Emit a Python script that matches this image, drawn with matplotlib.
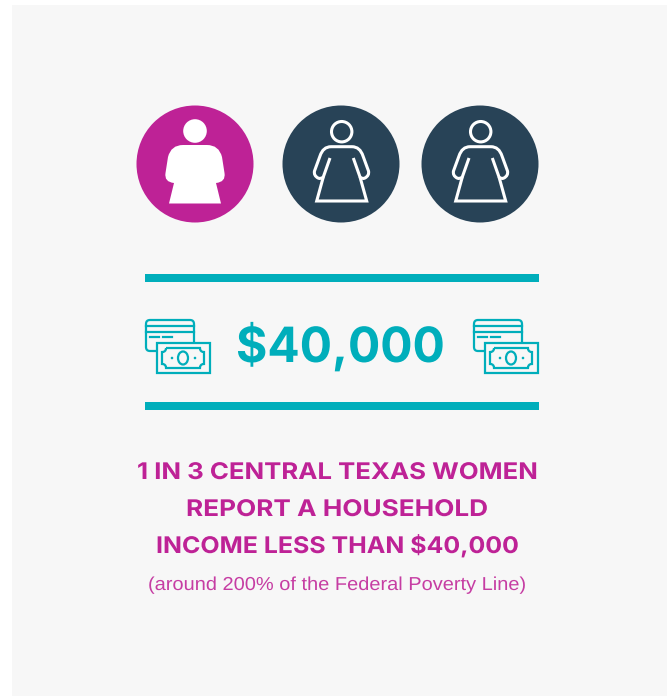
# -*- coding: utf-8 -*-
import matplotlib
matplotlib.use('Agg')
import matplotlib.pyplot as plt
from matplotlib.patches import Circle, Rectangle, FancyBboxPatch, Ellipse, PathPatch
from matplotlib.path import Path
from matplotlib.patheffects import AbstractPathEffect
from matplotlib.transforms import Affine2D

W = 667
H = 696

# one filled icon out of three
women_filled = [True, False, False]
women_x = [195, 341, 480]
amount_label = '$40,000'
headline_lines = ['1 IN 3 CENTRAL TEXAS WOMEN',
                  'REPORT A HOUSEHOLD',
                  'INCOME LESS THAN $40,000']
note_label = '(around 200% of the Federal Poverty Line)'

magenta = '#BE2296'
navy = '#284357'
teal = '#00AEBB'
panel = '#F7F7F7'

fig = plt.figure(figsize=(W / 100, H / 100), dpi=100, facecolor='white')
ax = fig.add_axes([0, 0, 1, 1])
ax.set_xlim(0, W)
ax.set_ylim(H, 0)
ax.axis('off')

ax.add_patch(Rectangle((12, 5), W - 12, H - 5, fc=panel, ec='none'))

M, L, Q, Z = Path.MOVETO, Path.LINETO, Path.CURVE3, Path.CLOSEPOLY


class StretchX(AbstractPathEffect):
    # the reference type is wider than anything installed
    def __init__(self, sx, cx):
        super().__init__()
        self.sx = sx
        self.cx = cx

    def draw_path(self, renderer, gc, tpath, affine, rgbFace=None):
        stretch = Affine2D().translate(-self.cx, 0).scale(self.sx, 1).translate(self.cx, 0)
        renderer.draw_path(gc, tpath, affine + stretch, rgbFace)


def wide_text(label, x0, x1, y, **kw):
    cx = (x0 + x1) / 2
    t = ax.text(cx, y, label, ha='center', va='baseline', **kw)
    width = t.get_window_extent(fig.canvas.get_renderer()).width
    t.set_path_effects([StretchX((x1 - x0) / width, cx)])
    return t


def filled_woman(cx, cy):
    ax.add_patch(Circle((cx, cy - 33), 11.8, fc='white', ec='none'))
    pts = [(-12, -19), (12, -19), (24, -19), (27, -7), (29.5, 9), (31, 18), (21, 19),
           (26, 39.5), (-26, 39.5), (-21, 19), (-31, 18), (-29.5, 9), (-27, -7), (-24, -19),
           (-12, -19), (-12, -19)]
    codes = [M, L, Q, Q, L, Q, Q, L, L, L, Q, Q, L, Q, Q, Z]
    pts = [(cx + x, cy + y) for x, y in pts]
    ax.add_patch(PathPatch(Path(pts, codes), fc='white', ec='none'))


def outline_woman(cx, cy):
    lw = 2.2
    ax.add_patch(Circle((cx + 0.7, cy - 32.3), 10.2, fc='none', ec='white', lw=lw))
    pts = [(-11, -6), (-17.7, 13), (-20, 15.5), (-23, 14), (-27.5, 11.5), (-26.5, 7), (-21, -8),
           (-18, -17.3), (-10, -17.3), (11, -17.3), (19, -17.3), (22, -8), (27.5, 7), (28.5, 11.5),
           (24, 14), (21, 15.5), (19, 13), (12.3, -6)]
    codes = [M, L, Q, Q, Q, Q, L, Q, Q, L, Q, Q, L, Q, Q, Q, Q, L]
    pts = [(cx + x, cy + y) for x, y in pts]
    ax.add_patch(PathPatch(Path(pts, codes), fc='none', ec='white', lw=lw, capstyle='butt', joinstyle='round'))
    skirt = [(-17.7, 13), (-24.3, 37), (25.7, 37), (19, 13)]
    pts = [(cx + x, cy + y) for x, y in skirt]
    ax.add_patch(PathPatch(Path(pts, [M, L, L, L]), fc='none', ec='white', lw=lw, joinstyle='miter'))


for cx, filled in zip(women_x, women_filled):
    ax.add_patch(Circle((cx, 164), 58.5, fc=magenta if filled else navy, ec='none'))
    if filled:
        filled_woman(cx, 164)
    else:
        outline_woman(cx, 164)

# teal rules above and below the amount
for y in [277.5, 406]:
    ax.add_patch(Rectangle((145, y - 4), 394, 8, fc=teal, ec='none'))


def money_icon(x0, y0):
    lw = 1.6
    ax.add_patch(FancyBboxPatch((x0 + 1, y0 + 1), 48, 31, boxstyle='round,pad=0,rounding_size=4',
                                fc='none', ec=teal, lw=lw))
    ax.plot([x0 + 1, x0 + 49], [y0 + 7, y0 + 7], color=teal, lw=lw)
    ax.plot([x0 + 1, x0 + 49], [y0 + 13, y0 + 13], color=teal, lw=lw)
    ax.plot([x0 + 5, x0 + 14], [y0 + 18, y0 + 18], color=teal, lw=lw)
    ax.plot([x0 + 18, x0 + 27], [y0 + 18, y0 + 18], color=teal, lw=lw)
    # note in front
    ax.add_patch(Rectangle((x0 + 12, y0 + 23.5), 53, 30.5, fc=panel, ec=teal, lw=lw))
    bx, by = x0 + 17, y0 + 29
    pts = [(bx + 4, by), (bx + 38, by), (bx + 38, by + 4), (bx + 42, by + 4), (bx + 42, by + 16),
           (bx + 38, by + 16), (bx + 38, by + 20), (bx + 4, by + 20), (bx + 4, by + 16), (bx, by + 16),
           (bx, by + 4), (bx + 4, by + 4), (bx + 4, by)]
    ax.add_patch(PathPatch(Path(pts, [M, L, Q, Q, L, Q, Q, L, Q, Q, L, Q, Q]), fc='none', ec=teal, lw=lw))
    ax.add_patch(Ellipse((bx + 21, by + 10), 10, 13, fc='none', ec=teal, lw=lw))
    ax.add_patch(Circle((bx + 10, by + 10), 1.3, fc=teal, ec='none'))
    ax.add_patch(Circle((bx + 33, by + 10), 1.3, fc=teal, ec='none'))


money_icon(145, 319)
money_icon(473, 319)

wide_text(amount_label, 236, 445, 362, color=teal, fontsize=35, fontweight='bold',
          family='Inter')

headline_spans = [(137, 537), (186, 488), (156, 518)]
headline_base = [479, 516, 553]
for line, (x0, x1), y in zip(headline_lines, headline_spans, headline_base):
    wide_text(line, x0, x1, y, color=magenta, fontsize=16.5, fontweight='bold',
              family='Inter')

wide_text(note_label, 148, 526, 590, color='#C63DA3', fontsize=13.5, family='Liberation Sans')

plt.savefig('out.png', dpi=100)
